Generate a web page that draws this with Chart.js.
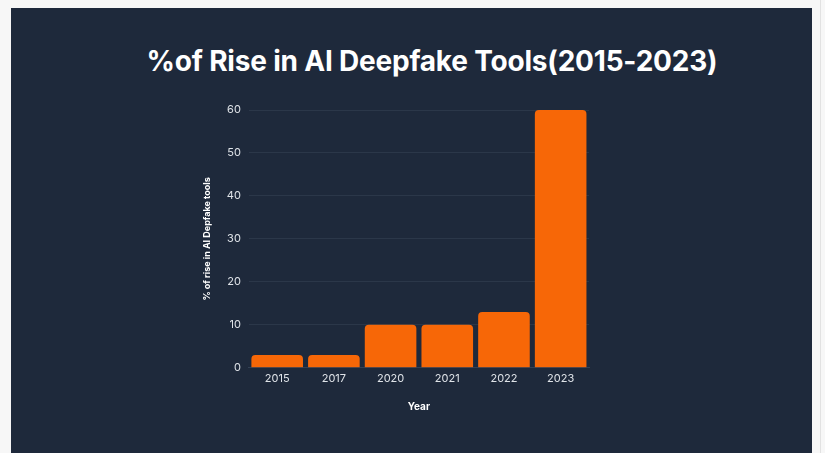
<!DOCTYPE html>
<html>
<head>
<meta charset="utf-8">
<script src="https://cdn.jsdelivr.net/npm/chart.js@4"></script>
<style>
  html, body { margin: 0; padding: 0; background: #f7f7f7; width: 825px; height: 453px; overflow: hidden; }
  #panel { position: absolute; left: 11px; top: 8px; width: 801px; height: 460px; background: #1e293b; }
  #title { position: absolute; left: 0; top: 36px; width: 842px; text-align: center; color: #fff;
           font: 700 28px Inter, sans-serif; letter-spacing: -0.2px; }
  #wrap { position: absolute; left: 167px; top: 87px; width: 423px; height: 338px; }
  #edge { position: absolute; left: 820px; top: 0; width: 1px; height: 453px; background: #e2e2e2; }
</style>
</head>
<body>
<div id="panel">
  <div id="title">%of Rise in AI Deepfake Tools(2015-2023)</div>
  <div id="wrap"><canvas id="chart"></canvas></div>
</div>
<div id="edge"></div>
<script>
const years = ["2015", "2017", "2020", "2021", "2022", "2023"];
const risePct = [3, 3, 10, 10, 13, 60];

new Chart(document.getElementById("chart"), {
  type: "bar",
  data: {
    labels: years,
    datasets: [{
      label: "% of rise in AI Depfake tools",
      data: risePct,
      backgroundColor: "#f76707",
      borderRadius: { topLeft: 4, topRight: 4 },
      borderSkipped: "bottom",
      barPercentage: 0.91,
      categoryPercentage: 1
    }]
  },
  options: {
    responsive: true,
    maintainAspectRatio: false,
    animation: false,
    layout: { padding: { left: 20, right: 12, top: 15, bottom: 16 } },
    plugins: { legend: { display: false }, tooltip: { enabled: false } },
    scales: {
      x: {
        grid: { display: false, drawTicks: false },
        border: { color: "#334155" },
        ticks: { color: "#dfe3e8", font: { family: "Inter", size: 11 }, padding: 4 },
        title: { display: true, text: "Year", color: "#ffffff",
                 font: { family: "Inter", size: 10, weight: "bold" }, padding: { top: 12 } }
      },
      y: {
        min: 0, max: 60,
        ticks: { stepSize: 10, color: "#dfe3e8", font: { family: "Inter", size: 11 }, padding: 8 },
        grid: { color: "#2b3749", drawTicks: false },
        border: { display: false },
        title: { display: true, text: "% of rise in AI Depfake tools", color: "#ffffff",
                 font: { family: "Inter", size: 9, weight: "bold" }, padding: { bottom: 6 } }
      }
    }
  }
});
</script>
</body>
</html>
